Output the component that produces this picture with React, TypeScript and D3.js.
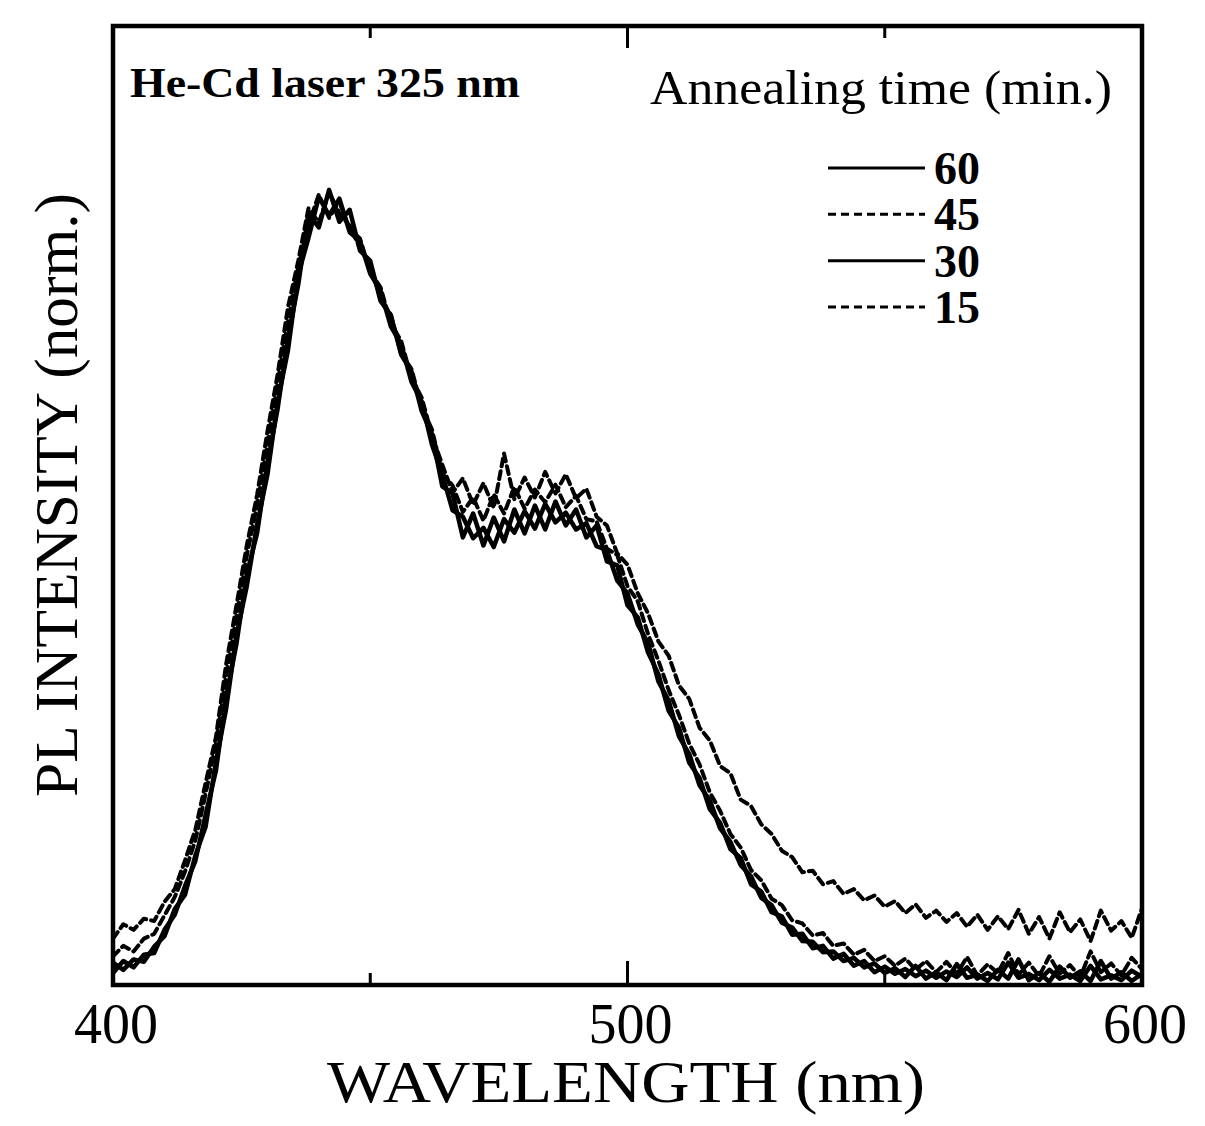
import React from 'react';
import * as d3 from 'd3';

// Wavelength sampling grid (nm)
const wavelengths: number[] = d3.range(400, 601, 2);

// Normalized PL intensity (%), one value per 2 nm
const s60 = [
  1.5, 3.0, 2.2, 3.8, 4.0, 6.9, 8.8, 12.4, 15.5, 21.3,
  26.8, 36.1, 42.7, 51.4, 56.5, 65.2, 72.1, 81.0, 87.6, 96.5,
  94.8, 99.5, 95.5, 97.0, 91.9, 90.6, 85.6, 83.8, 78.9, 76.8,
  71.8, 68.9, 62.4, 61.5, 56.0, 59.0, 55.0, 58.5, 55.5, 59.5,
  56.5, 60.0, 57.0, 60.5, 57.5, 59.5, 56.0, 57.5, 53.0, 52.5,
  47.5, 46.0, 41.6, 38.9, 34.3, 32.2, 27.8, 25.9, 22.0, 20.3,
  17.0, 15.9, 12.6, 11.7, 9.1, 8.6, 6.3, 6.4, 4.6, 4.9,
  3.3, 3.9, 2.4, 3.0, 1.6, 2.3, 1.4, 2.0, 1.1, 1.8,
  0.9, 1.7, 1.0, 2.2, 0.8, 1.5, 0.7, 2.8, 0.9, 1.4,
  0.6, 1.9, 0.8, 1.3, 0.5, 2.4, 0.7, 1.2, 0.6, 1.8,
  1.0,
];
const s45 = [
  3.6, 4.9, 4.2, 5.8, 6.4, 8.7, 11.0, 14.2, 18.1, 23.9,
  30.2, 38.6, 46.0, 53.7, 60.0, 67.5, 75.3, 83.0, 89.8, 95.1,
  98.9, 96.0, 98.0, 94.6, 93.4, 89.2, 87.3, 82.8, 80.6, 76.0,
  73.5, 68.8, 65.1, 61.6, 63.4, 60.1, 62.8, 59.7, 66.5, 60.8,
  63.5, 61.0, 64.2, 61.5, 63.9, 60.9, 62.1, 58.6, 57.5, 54.0,
  52.6, 49.0, 46.5, 43.0, 41.2, 37.5, 35.8, 32.2, 30.6, 27.4,
  26.5, 23.2, 22.4, 20.1, 18.9, 16.8, 16.0, 14.1, 14.3, 12.6,
  13.0, 11.4, 12.0, 10.6, 11.2, 9.8, 10.5, 9.0, 10.1, 8.4,
  9.3, 7.9, 9.0, 7.3, 8.8, 6.9, 8.6, 7.0, 9.4, 6.4,
  8.5, 5.8, 9.1, 6.6, 8.2, 5.5, 9.3, 6.8, 8.0, 5.9,
  9.6,
];
const s30 = [
  2.8, 1.9, 3.2, 2.9, 4.8, 6.1, 9.5, 11.3, 16.2, 19.8,
  27.9, 34.6, 43.8, 49.9, 57.6, 63.8, 73.0, 79.4, 88.9, 93.5,
  98.6, 96.3, 98.4, 94.2, 93.1, 89.0, 86.9, 82.4, 80.2, 75.5,
  73.0, 67.6, 63.9, 59.4, 58.6, 55.9, 57.2, 54.8, 58.3, 56.6,
  59.3, 57.1, 60.2, 57.9, 59.1, 57.0, 57.8, 54.9, 54.4, 50.6,
  49.0, 45.1, 42.8, 38.0, 35.6, 31.1, 28.9, 25.0, 23.1, 19.6,
  17.9, 15.0, 13.6, 10.9, 10.0, 7.8, 7.2, 5.5, 5.4, 4.1,
  4.2, 3.0, 3.4, 2.2, 2.7, 1.5, 2.1, 1.0, 2.4, 0.8,
  1.6, 0.6, 2.6, 0.9, 1.3, 0.5, 1.9, 0.8, 3.2, 0.6,
  1.5, 0.4, 2.3, 0.9, 1.7, 0.5, 3.0, 0.8, 1.6, 0.5,
  1.4,
];
const s15 = [
  5.8, 7.6, 6.9, 8.3, 8.0, 10.4, 12.0, 15.6, 19.4, 25.3,
  31.0, 40.2, 47.5, 55.0, 61.3, 69.2, 76.4, 84.8, 90.6, 97.2,
  95.4, 99.2, 96.6, 95.0, 92.2, 90.1, 85.8, 83.9, 79.0, 77.1,
  72.4, 69.5, 64.0, 62.5, 59.2, 61.0, 58.1, 61.4, 59.0, 62.3,
  59.6, 62.0, 60.4, 62.6, 59.8, 61.2, 58.3, 58.0, 54.6, 53.8,
  49.9, 48.0, 43.9, 40.6, 36.9, 33.8, 30.2, 27.6, 24.1, 21.8,
  18.9, 17.2, 14.4, 13.1, 10.8, 10.0, 8.1, 7.7, 6.2, 6.5,
  4.9, 5.2, 3.8, 4.4, 3.0, 3.6, 2.4, 3.3, 1.9, 3.0,
  1.6, 2.9, 1.4, 3.5, 1.2, 2.6, 1.5, 4.0, 1.3, 2.8,
  1.1, 3.6, 1.4, 2.5, 1.0, 4.2, 1.6, 2.7, 1.2, 3.4,
  2.0,
];

const seriesNames = ['60', '45', '30', '15'];
const seriesValues = [s60, s45, s30, s15];
const seriesDashed = [false, true, false, true];

const xTickLabels = [400, 500, 600];
const xMajorInner = [500];
const xMinorInner = [450, 550];

export default function App() {
  const W = 1205;
  const H = 1126;
  const left = 113, right = 1142, top = 26, bottom = 985;

  const x = d3.scaleLinear().domain([400, 600]).range([left, right]);
  const y = d3.scaleLinear().domain([0, 120]).range([bottom, top]);

  const line = d3
    .line<number>()
    .x((_, i) => x(wavelengths[i]))
    .y((d) => y(d));

  const serif = '"Liberation Serif", "Times New Roman", serif';

  const legendX0 = 828, legendX1 = 925;
  const legendY = d3.scaleLinear().domain([0, 3]).range([168, 307]);

  return (
    <svg
      width={W}
      height={H}
      viewBox={`0 0 ${W} ${H}`}
      style={{ position: 'absolute', left: 0, top: 0, background: '#fff' }}
      fontFamily={serif}
    >
      <rect x={0} y={0} width={W} height={H} fill="#fff" />
      <defs>
        <clipPath id="plotclip">
          <rect x={left} y={top} width={right - left} height={bottom - top} />
        </clipPath>
      </defs>

      {/* curves */}
      <g clipPath="url(#plotclip)">
        {seriesValues.map((vals, k) => (
          <path
            key={seriesNames[k]}
            d={line(vals) || ''}
            fill="none"
            stroke="#000"
            strokeWidth={seriesDashed[k] ? 4 : 4.5}
            strokeLinejoin="round"
            strokeLinecap="round"
            strokeDasharray={seriesDashed[k] ? '8 5' : undefined}
          />
        ))}
      </g>

      {/* frame */}
      <rect
        x={left}
        y={top}
        width={right - left}
        height={bottom - top}
        fill="none"
        stroke="#000"
        strokeWidth={4.5}
      />

      {/* inward ticks */}
      {xMajorInner.map((t) => (
        <g key={'M' + t}>
          <line x1={x(t)} x2={x(t)} y1={bottom} y2={bottom - 24} stroke="#000" strokeWidth={3} />
          <line x1={x(t)} x2={x(t)} y1={top} y2={top + 22} stroke="#000" strokeWidth={3} />
        </g>
      ))}
      {xMinorInner.map((t) => (
        <g key={'m' + t}>
          <line x1={x(t)} x2={x(t)} y1={bottom} y2={bottom - 12} stroke="#000" strokeWidth={3} />
          <line x1={x(t)} x2={x(t)} y1={top} y2={top + 12} stroke="#000" strokeWidth={3} />
        </g>
      ))}

      {/* tick labels */}
      {xTickLabels.map((t) => (
        <text key={'l' + t} x={x(t) + 3} y={1043} fontSize={56} textAnchor="middle" fill="#000">
          {t}
        </text>
      ))}

      {/* axis titles */}
      <text x={626} y={1102} fontSize={60} textAnchor="middle" fill="#000" textLength={598} lengthAdjust="spacingAndGlyphs">
        WAVELENGTH (nm)
      </text>
      <text
        transform="translate(77,495) rotate(-90)"
        fontSize={62}
        textAnchor="middle"
        fill="#000"
        textLength={604}
        lengthAdjust="spacingAndGlyphs"
      >
        PL INTENSITY (norm.)
      </text>

      {/* annotations */}
      <text x={130} y={97} fontSize={42} fontWeight="bold" fill="#000" textLength={390} lengthAdjust="spacingAndGlyphs">
        He-Cd laser 325 nm
      </text>
      <text x={650} y={104} fontSize={48} fill="#000" textLength={462} lengthAdjust="spacingAndGlyphs">
        Annealing time (min.)
      </text>

      {/* legend */}
      {seriesNames.map((n, k) => (
        <g key={'lg' + n}>
          <line
            x1={legendX0}
            x2={legendX1}
            y1={legendY(k)}
            y2={legendY(k)}
            stroke="#000"
            strokeWidth={3}
            strokeDasharray={seriesDashed[k] ? '8 5' : undefined}
          />
          <text x={934} y={legendY(k) + 16} fontSize={46} fontWeight="bold" fill="#000">
            {n}
          </text>
        </g>
      ))}
    </svg>
  );
}
